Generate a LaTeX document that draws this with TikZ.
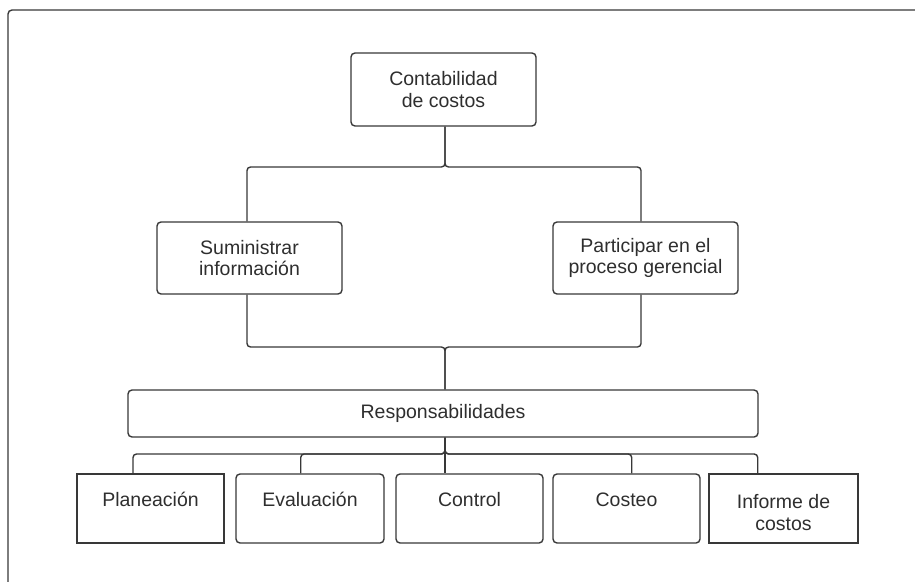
\documentclass[tikz,border=0pt]{standalone}
\usepackage{fontspec}
\setmainfont{Liberation Sans}
\begin{document}
\begin{tikzpicture}[x=1pt,y=-1pt,
  txt/.style={text=black!82,font=\fontsize{19.5}{21.5}\selectfont},
  rbox/.style={txt,draw=black!78,line width=1.4pt,rounded corners=4pt,align=center,inner sep=0pt},
  sbox/.style={txt,draw=black!78,line width=1.4pt,align=center,inner sep=0pt},
  conn/.style={draw=black!78,line width=1.4pt,rounded corners=3.5pt}]
\path[clip] (0,0) rectangle (915,581);
% page frame, partly outside the visible area
\draw[draw=black!78,line width=1.4pt,rounded corners=4pt] (8,10) rectangle (940,600);

% top level
\node[rbox,minimum width=185pt,minimum height=73pt] (top) at (443.5,89.5) {Contabilidad\\de costos};
\node[rbox,minimum width=185pt,minimum height=72pt] (sumi) at (249.5,258) {Suministrar\\información};
\node[rbox,minimum width=185pt,minimum height=72pt] (parti) at (645.5,258) {Participar en el\\proceso gerencial};
\node[rbox,minimum width=630pt,minimum height=47pt] (resp) at (443,413.5) {Responsabilidades};

% bottom row
\tikzset{low/.style={minimum width=147pt,minimum height=69pt}}
\node[sbox,low] (plan) at (150.5,508.5) {};
\node[rbox,low,minimum width=148pt] (eval) at (310,508.5) {};
\node[rbox,low] (ctrl) at (469.5,508.5) {};
\node[rbox,low] (cost) at (626.5,508.5) {};
\node[sbox,low,minimum width=149pt] (info) at (783.5,508.5) {};
\path (plan.center) node[txt,yshift=9pt] (planT) {Planeación};
\path (eval.center) node[txt,yshift=9pt] (evalT) {Evaluación};
\path (ctrl.center) node[txt,yshift=9pt] (ctrlT) {Control};
\path (cost.center) node[txt,yshift=9pt] (costT) {Costeo};
\path (info.center) node[txt,align=center,yshift=-4pt] (infoT) {Informe de\\costos};

% connectors
\coordinate (split) at (445,167);
\coordinate (join) at (445,347);
\coordinate (bus) at (445,454);
\draw[conn] ([xshift=1.5pt]top.south) -- (split) -| ([xshift=-2.5pt]sumi.north);
\draw[conn] ([xshift=1.5pt]top.south) -- (split) -| ([xshift=-4.5pt]parti.north);
\draw[conn] ([xshift=-2.5pt]sumi.south) |- (join) -- ([xshift=2pt]resp.north);
\draw[conn] ([xshift=-4.5pt]parti.south) |- (join) -- ([xshift=2pt]resp.north);
\draw[conn] ([xshift=2pt]resp.south) -- (bus) -| ([xshift=-17.5pt]plan.north);
\draw[conn] ([xshift=2pt]resp.south) -- (bus) -| ([xshift=-9.3pt]eval.north);
\draw[conn] ([xshift=2pt]resp.south) -- (bus) -- ([xshift=-24.5pt]ctrl.north);
\draw[conn] ([xshift=2pt]resp.south) -- (bus) -| ([xshift=5.2pt]cost.north);
\draw[conn] ([xshift=2pt]resp.south) -- (bus) -| ([xshift=-25.8pt]info.north);
\end{tikzpicture}
\end{document}
